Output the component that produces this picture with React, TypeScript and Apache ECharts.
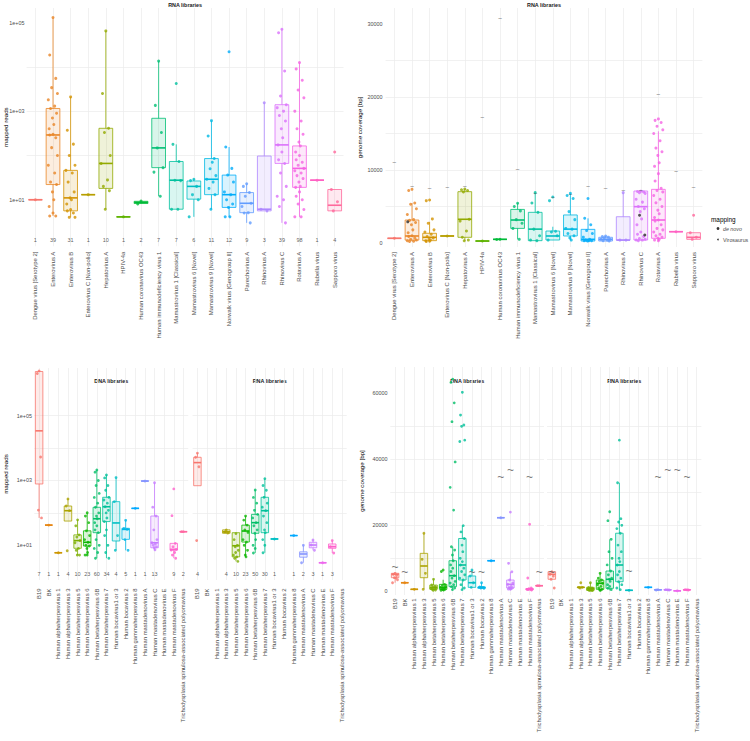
import React, { useEffect, useRef } from "react";
import * as echarts from "echarts";

// ---------------- categories ----------------
const rnaCategories = [
  "Dengue virus [Serotype 2]",
  "Enterovirus A",
  "Enterovirus B",
  "Enterovirus C [Non-polio]",
  "Hepatovirus A",
  "HPIV-4a",
  "Human coronavirus OC43",
  "Human immunodeficiency virus 1",
  "Mamastrovirus 1 [Classical]",
  "Mamastrovirus 6 [Novel]",
  "Mamastrovirus 9 [Novel]",
  "Norwalk virus [Genogroup II]",
  "Parechovirus A",
  "Rhinovirus A",
  "Rhinovirus C",
  "Rotavirus A",
  "Rubella virus",
  "Sapporo virus",
];

const dnaCategories = [
  "B19",
  "BK",
  "Human alphaherpesvirus 1",
  "Human alphaherpesvirus 3",
  "Human betaherpesvirus 5",
  "Human betaherpesvirus 6",
  "Human betaherpesvirus 6B",
  "Human betaherpesvirus 7",
  "Human bocavirus1 or 3",
  "Human bocavirus 2",
  "Human gammaherpesvirus 8",
  "Human mastadenovirus A",
  "Human mastadenovirus C",
  "Human mastadenovirus E",
  "Human mastadenovirus F",
  "Trichodysplasia spinulosa-associated polyomavirus",
];

// ---------------- panel A: RNA libraries, mapped reads ----------------
// box stats: [lower whisker, Q1, median, Q3, upper whisker]
const rnaReadBoxes: (number[] | null)[] = [
  [10, 10, 10, 10, 10],
  [4.3, 22, 290, 1150, 130000],
  [4, 5.6, 11, 46, 2100],
  [13, 13, 13, 13, 13],
  [6.1, 18, 66, 410, 65000],
  [4.1, 4.1, 4.1, 4.1, 4.1],
  [8, 8.2, 8.7, 9.2, 9.3],
  [12, 53, 148, 690, 13500],
  [6.1, 6.1, 27.6, 73, 178],
  [4.1, 10.3, 20, 26.5, 29],
  [6.1, 13, 29, 85, 610],
  [4.1, 6.7, 13, 36, 155],
  [3, 5.1, 8.3, 14.5, 23],
  [5.6, 5.6, 6.1, 97, 1550],
  [3, 66, 173, 1400, 71000],
  [4.1, 19, 51, 164, 12500],
  [27.6, 27.6, 27.6, 27.6, 27.6],
  [5.6, 5.6, 7.5, 17, 17],
];
const rnaReadPoints: number[][] = [
  [10],
  [130000, 18600, 5500, 3400, 2500, 1800, 1300, 1150, 900, 700, 500, 400, 300, 290, 250, 150, 100, 60, 40, 25, 22, 15, 10, 7, 5, 4.3, 4.3],
  [2100, 370, 180, 100, 60, 46, 40, 25, 15, 11, 10, 8, 6, 5.6, 5, 4, 4],
  [13],
  [65000, 2500, 410, 330, 100, 66, 28, 20, 16, 6.1],
  [4.1],
  [9.3, 8],
  [13500, 1350, 330, 148, 53, 42, 12],
  [4200, 178, 73, 27.6, 27, 6.1, 6.1],
  [29, 27, 20, 13, 10, 4.1],
  [610, 275, 85, 50, 35, 29, 25, 18, 13, 6.1, 70],
  [22000, 155, 51, 36, 25, 15, 13, 10, 8, 6.7, 4.1, 4.1],
  [23, 20, 14.5, 12, 8.3, 7, 5.1, 5, 3],
  [1550, 6.1, 5.6],
  [71000, 59000, 8100, 2200, 1400, 1200, 1000, 800, 600, 400, 250, 173, 120, 80, 66, 40, 20, 12, 10, 7, 3],
  [12500, 9000, 5000, 3000, 2000, 1000, 600, 400, 300, 200, 164, 120, 100, 80, 70, 60, 51, 45, 40, 35, 30, 25, 20, 19, 15, 12, 10, 8, 6, 4.1, 4.1],
  [27.6],
  [120, 17, 9, 5.6],
];
const rnaReadCounts: (number | null)[] = [1, 39, 31, 1, 10, 1, 2, 7, 7, 6, 11, 12, 9, 3, 39, 98, 1, 4];

// ---------------- panel B: RNA libraries, genome coverage ----------------
const rnaCovBoxes: (number[] | null)[] = [
  [640, 640, 640, 640, 640],
  [200, 400, 960, 3150, 5480],
  [200, 320, 780, 1330, 2900],
  [960, 960, 960, 960, 960],
  [300, 780, 3250, 7030, 7400],
  [270, 270, 270, 270, 270],
  [500, 500, 500, 500, 500],
  [500, 2000, 3150, 4600, 5440],
  [320, 320, 1900, 4200, 6900],
  [400, 410, 960, 1640, 2230],
  [400, 960, 1900, 3840, 6800],
  [270, 270, 500, 1870, 3380],
  [270, 270, 500, 780, 960],
  [400, 400, 400, 3600, 6900],
  [300, 410, 4980, 7120, 7120],
  [300, 640, 3150, 7350, 15300],
  [1550, 1550, 1550, 1550, 1550],
  [500, 500, 780, 1410, 1410],
];
const rnaCovPoints: number[][] = [
  [650],
  [7350, 7200, 5480, 5300, 4700, 3900, 3200, 3100, 2800, 2500, 1800, 1400, 1000, 900, 700, 500, 400, 300, 250, 200],
  [5900, 5800, 3300, 2700, 1800, 1500, 1200, 900, 700, 500, 400, 320, 250, 200],
  [960],
  [7400, 7300, 7200, 7000, 3250, 3000, 1640, 780, 400, 300],
  [270],
  [500, 480],
  [5440, 5000, 4400, 3200, 2700, 2000, 500],
  [6900, 5480, 4200, 1900, 1000, 400, 320],
  [6300, 5800, 1600, 1500, 1000, 400],
  [6800, 6500, 6100, 4300, 3200, 2000, 1900, 1300, 1000, 700, 400],
  [6100, 3380, 2500, 1700, 1300, 800, 500, 400, 300, 270, 300, 300],
  [960, 900, 800, 700, 500, 500, 400, 300, 270],
  [6900, 400, 400],
  [7100, 7050, 7000, 6900, 6800, 6000, 5600, 5000, 4700, 4300, 3300, 2500, 1500, 1200, 900, 600, 500, 410, 400, 300],
  [17000, 16800, 16500, 16000, 15500, 15000, 14000, 13000, 12500, 12000, 11000, 10500, 9500, 8500, 7500, 7200, 7000, 6500, 6000, 5500, 5000, 4500, 4000, 3500, 3150, 3000, 2500, 2000, 1800, 1500, 1200, 1000, 800, 640, 500, 400, 300],
  [1550],
  [3800, 1410, 780, 500],
];
const rnaGenomeLength: (number | null)[] = [11000, 7700, 7500, 7600, 7700, 17200, 30800, 10100, 6800, 6300, 6700, 7700, 7500, 7200, 7200, 20400, 9800, 7600];
const deNovoCategory = [14, 14, 1];
const deNovoCoverage = [3800, 1100, 2900];

// ---------------- panel C: mapped reads, DNA / RNA libraries ----------------
const dnaLibReadBoxes: (number[] | null)[] = [
  [70, 780, 34000, 2300000, 2400000],
  [42, 42, 42, 42, 42],
  [5.9, 5.9, 5.9, 5.9, 5.9],
  [56, 56, 117, 163, 270],
  [5, 8.1, 14, 21, 61],
  [5, 9.5, 12.4, 28, 101],
  [4, 24.5, 66, 149, 2100],
  [4, 54, 155, 303, 1480],
  [7, 13.6, 49, 222, 1230],
  [7, 15.3, 31, 33.5, 59],
  [138, 138, 138, 138, 138],
  [960, 960, 960, 960, 960],
  [7.3, 8.4, 12, 80, 850],
  null,
  [4, 7.1, 7.5, 11.5, 11.5],
  [26.3, 26.3, 26.3, 26.3, 26.3],
];
const dnaLibReadPoints: number[][] = [
  [2400000, 2000000, 5300, 122, 70],
  [42],
  [5.9],
  [270, 163, 117, 6.8],
  [61, 40, 21, 18, 14, 12, 8, 7, 5, 5],
  [101, 80, 50, 28, 20, 15, 12.4, 10, 9.5, 8, 6, 5, 5],
  [2100, 1800, 1000, 700, 400, 300, 200, 149, 100, 80, 66, 50, 40, 30, 24.5, 15, 10, 8, 6, 4],
  [1480, 1200, 700, 500, 303, 250, 200, 155, 120, 100, 70, 54, 30, 20, 10, 6, 4],
  [1230, 222, 20, 7],
  [59, 33, 31, 15, 7],
  [138],
  [960],
  [850, 150, 80, 30, 15, 12, 11, 10, 9, 8.4, 7.3],
  [],
  [550, 82, 11.5, 9, 7.5, 7.1, 6, 5, 4],
  [26.3, 26.3],
];
const dnaLibReadCounts: (number | null)[] = [7, 1, 1, 4, 10, 23, 60, 34, 4, 5, 1, 1, 13, null, 9, 2];

const rnaLibReadBoxes: (number[] | null)[] = [
  [690, 690, 3560, 5200, 7000],
  null,
  null,
  [23.5, 23.5, 26, 30, 30],
  [3.2, 4.4, 9.7, 24.5, 24.5],
  [4.4, 12.6, 27.6, 42, 80],
  [5.8, 23.5, 50, 90, 510],
  [5.9, 24.5, 117, 303, 1140],
  [15.7, 15.7, 15.7, 15.7, 15.7],
  null,
  [20, 20, 20, 20, 20],
  [2.9, 4.3, 5.4, 6.3, 10],
  [7, 8.4, 10.2, 12.4, 14.6],
  [2.9, 2.9, 2.9, 2.9, 2.9],
  [5.8, 8.1, 9.1, 11, 14],
  null,
];
const rnaLibReadPoints: number[][] = [
  [7000, 5200, 2650, 14],
  [],
  [],
  [30, 26, 24, 26],
  [23, 15, 10, 9, 7, 5, 4.4, 4, 3.2, 6],
  [80, 60, 42, 30, 25, 15, 12.6, 10, 7, 5, 4.4],
  [510, 300, 200, 120, 90, 70, 50, 40, 30, 23.5, 15, 10, 8, 5.8],
  [1140, 700, 500, 303, 200, 150, 117, 80, 50, 30, 24.5, 15, 10, 5.9],
  [15.7],
  [],
  [20],
  [10, 2.9],
  [14.6, 10.2, 7],
  [2.9],
  [14, 9.1, 5.8],
  [],
];
const rnaLibReadCounts: (number | null)[] = [4, null, null, 4, 10, 23, 50, 30, 1, null, 1, 2, 3, 1, 3, null];

// ---------------- panel D: genome coverage, DNA / RNA libraries ----------------
const dnaLibCovBoxes: (number[] | null)[] = [
  [2600, 4120, 5150, 5450, 5450],
  [2600, 2600, 2600, 2600, 2600],
  [600, 600, 600, 600, 600],
  [600, 4120, 7670, 11500, 17600],
  [300, 600, 1200, 1900, 3640],
  [300, 600, 1200, 2100, 3500],
  [500, 1400, 4730, 9270, 13500],
  [500, 3420, 7970, 16000, 19900],
  [1200, 1200, 2600, 4640, 6450],
  [900, 900, 1200, 1300, 2600],
  [9270, 9270, 9270, 9270, 9270],
  [22300, 22300, 22300, 22300, 22300],
  [600, 1000, 2100, 3420, 5900],
  null,
  [400, 500, 600, 800, 1000],
  [1700, 1700, 1700, 1700, 1700],
];
const dnaLibCovPoints: number[][] = [
  [5450, 5150, 4800, 4120, 3500, 2600, 4000],
  [2600],
  [600],
  [17600, 9700, 5450, 600],
  [3640, 1900, 1500, 1200, 1000, 900, 800, 600, 400, 300],
  [6450, 6000, 2100, 1800, 1500, 1200, 1000, 800, 600, 500, 400, 300],
  [64300, 63300, 57100, 51400, 39200, 31500, 24600, 13500, 12500, 11000, 9270, 8000, 7000, 6000, 4730, 4000, 3000, 2500, 2000, 1400, 1000, 500],
  [60300, 53400, 50400, 50000, 45800, 45400, 19900, 18000, 16000, 14000, 12000, 10000, 9000, 7970, 7000, 6000, 5000, 4000, 3420, 2000, 1000, 500],
  [6450, 4640, 2600, 1200],
  [2600, 1300, 1200, 1000, 900],
  [9270],
  [22300],
  [24000, 8480, 5900, 3420, 2500, 2100, 1500, 1200, 1000, 900, 800, 700, 600],
  [],
  [20300, 4030, 1000, 800, 700, 600, 600, 500, 400],
  [1700, 1700],
];
const dnaLibGenomeLength: (number | null)[] = [7400, 5750, null, null, null, null, null, null, 5900, 5750, null, 34700, 36700, null, 34700, 5750];

const rnaLibCovBoxes: (number[] | null)[] = [
  [3640, 3640, 5150, 5940, 5940],
  null,
  null,
  [1000, 1150, 1200, 1250, 1300],
  [200, 300, 800, 1200, 2600],
  [300, 600, 2420, 3420, 5450],
  [300, 900, 3640, 6150, 15750],
  [300, 2900, 7970, 17600, 32900],
  [300, 300, 300, 300, 300],
  null,
  [1200, 1200, 1200, 1200, 1200],
  [400, 400, 450, 500, 500],
  [400, 400, 450, 500, 500],
  [150, 150, 150, 150, 150],
  [400, 400, 450, 500, 500],
  null,
];
const rnaLibCovPoints: number[][] = [
  [5940, 5150, 4600, 3640, 1000],
  [],
  [],
  [2600, 1200, 1200, 1000],
  [2600, 1200, 1000, 900, 600, 500, 400, 300, 200, 300],
  [5450, 4000, 3420, 3000, 2420, 2000, 1500, 1000, 600, 400, 300],
  [24100, 21400, 15750, 12000, 10000, 8000, 6150, 5000, 4000, 3640, 3000, 2000, 1500, 900, 500],
  [45800, 32900, 22000, 21000, 20000, 19000, 17600, 14000, 12000, 10000, 9000, 7970, 6000, 5000, 4000, 2900, 2000, 1000, 500],
  [300],
  [],
  [1200],
  [500, 400],
  [450, 500, 400],
  [150],
  [450, 500, 400],
  [],
];
const rnaLibGenomeLength: (number | null)[] = [5750, null, null, null, null, null, null, null, 6150, null, null, 34700, 36700, 36700, 34700, null];

// ---------------- styling helpers ----------------
const FONT = "'Liberation Sans', Arial, Helvetica, sans-serif";
const GRID_COLOR = "#EBEBEB";
const TEXT_GREY = "#4D4D4D";
const JITTER = [0, -0.6, 0.5, -0.25, 0.8, -0.85, 0.3, -0.45, 0.65, -0.1, 0.15, -0.7];

const CAT_FONT = 5.9;
const TICK_FONT = 5.4;
const NAME_FONT = 6.2;
const TITLE_FONT = 5.4;
const COUNT_FONT = 5.5;

function hcl2hex(h: number, c: number, l: number): string {
  const hr = (h * Math.PI) / 180;
  const U = c * Math.cos(hr);
  const V = c * Math.sin(hr);
  const Xn = 95.047, Yn = 100.0, Zn = 108.883;
  const den = Xn + 15 * Yn + 3 * Zn;
  const un = (4 * Xn) / den;
  const vn = (9 * Yn) / den;
  const Y = l > 8 ? Yn * Math.pow((l + 16) / 116, 3) : (Yn * l) / 903.3;
  const u = U / (13 * l) + un;
  const v = V / (13 * l) + vn;
  const X = (9 * Y * u) / (4 * v);
  const Z = -X / 3 - 5 * Y + (3 * Y) / v;
  const x = X / 100, y = Y / 100, z = Z / 100;
  const r = 3.240479 * x - 1.53715 * y - 0.498535 * z;
  const g = -0.969256 * x + 1.875992 * y + 0.041556 * z;
  const b = 0.055648 * x - 0.204043 * y + 1.057311 * z;
  const gam = (t: number) => {
    const s = t <= 0.0031308 ? 12.92 * t : 1.055 * Math.pow(t, 1 / 2.4) - 0.055;
    return Math.round(Math.max(0, Math.min(1, s)) * 255);
  };
  return "#" + [gam(r), gam(g), gam(b)].map((n) => n.toString(16).padStart(2, "0")).join("");
}
function huePalette(n: number): string[] {
  const out: string[] = [];
  for (let i = 0; i < n; i++) out.push(hcl2hex(15 + (360 * i) / n, 100, 65));
  return out;
}
function withAlpha(hex: string, a: number): string {
  const r = parseInt(hex.slice(1, 3), 16);
  const g = parseInt(hex.slice(3, 5), 16);
  const b = parseInt(hex.slice(5, 7), 16);
  return `rgba(${r},${g},${b},${a})`;
}

interface Panel {
  grid: { left: number; top: number; width: number; height: number };
  cats: string[];
  colors: string[];
  boxes: (number[] | null)[];
  points: number[][];
  log: boolean;
  yMin: number;
  yMax: number;
  yTicks: number[];
  yLabels: number[];
  showYLabels: boolean;
  yName?: string;
  nameGap?: number;
  labelMargin: number;
  xLabelMargin: number;
  jitter: number;
  sym: number;
  counts?: (number | null)[];
  countAt?: number;
  tildes?: (number | null)[];
  tildeSize?: number;
}

function buildOption() {
  const col18 = huePalette(18);
  const col16 = huePalette(16);
  const panels: Panel[] = [
    {
      grid: { left: 26.6, top: 8, width: 316.9, height: 238.2 },
      cats: rnaCategories, colors: col18, boxes: rnaReadBoxes, points: rnaReadPoints,
      log: true, yMin: -0.05, yMax: 5.33, yTicks: [1, 2, 3, 4, 5], yLabels: [1, 3, 5], showYLabels: true,
      yName: "mapped reads", nameGap: 18, labelMargin: 2.2, xLabelMargin: 5.5,
      jitter: 5.5, sym: 3, counts: rnaReadCounts, countAt: 1.23,
    },
    {
      grid: { left: 385.6, top: 8, width: 316.8, height: 239 },
      cats: rnaCategories, colors: col18, boxes: rnaCovBoxes, points: rnaCovPoints,
      log: false, yMin: -548, yMax: 32192, yTicks: [0, 5000, 10000, 15000, 20000, 25000, 30000],
      yLabels: [0, 10000, 20000, 30000], showYLabels: true,
      yName: "genome coverage [bp]", nameGap: 23.6, labelMargin: 3.2, xLabelMargin: 5,
      jitter: 5.5, sym: 3, tildes: rnaGenomeLength, tildeSize: 7,
    },
    {
      grid: { left: 34.3, top: 368, width: 153.9, height: 212 },
      cats: dnaCategories, colors: col16, boxes: dnaLibReadBoxes, points: dnaLibReadPoints,
      log: true, yMin: -0.07, yMax: 6.47, yTicks: [1, 2, 3, 4, 5, 6], yLabels: [1, 3, 5], showYLabels: true,
      yName: "mapped reads", nameGap: 26.3, labelMargin: 2.4, xLabelMargin: 8.5,
      jitter: 3, sym: 2.8, counts: dnaLibReadCounts, countAt: 1.27,
    },
    {
      grid: { left: 192.6, top: 368, width: 154.1, height: 212 },
      cats: dnaCategories, colors: col16, boxes: rnaLibReadBoxes, points: rnaLibReadPoints,
      log: true, yMin: -0.07, yMax: 6.47, yTicks: [1, 2, 3, 4, 5, 6], yLabels: [1, 3, 5], showYLabels: false,
      labelMargin: 2.4, xLabelMargin: 8.5,
      jitter: 3, sym: 2.8, counts: rnaLibReadCounts, countAt: 1.27,
    },
    {
      grid: { left: 390.3, top: 367, width: 153.7, height: 228 },
      cats: dnaCategories, colors: col16, boxes: dnaLibCovBoxes, points: dnaLibCovPoints,
      log: false, yMin: -1120, yMax: 67970, yTicks: [0, 10000, 20000, 30000, 40000, 50000, 60000],
      yLabels: [0, 20000, 40000, 60000], showYLabels: true,
      yName: "genome coverage [bp]", nameGap: 25.6, labelMargin: 2.8, xLabelMargin: 3.5,
      jitter: 3, sym: 2.8, tildes: dnaLibGenomeLength, tildeSize: 12,
    },
    {
      grid: { left: 547, top: 367, width: 154.4, height: 228 },
      cats: dnaCategories, colors: col16, boxes: rnaLibCovBoxes, points: rnaLibCovPoints,
      log: false, yMin: -1120, yMax: 67970, yTicks: [0, 10000, 20000, 30000, 40000, 50000, 60000],
      yLabels: [0, 20000, 40000, 60000], showYLabels: false,
      labelMargin: 2.8, xLabelMargin: 3.5,
      jitter: 3, sym: 2.8, tildes: rnaLibGenomeLength, tildeSize: 12,
    },
  ];

  const grids: any[] = [];
  const xAxes: any[] = [];
  const yAxes: any[] = [];
  const series: any[] = [];

  panels.forEach((p, g) => {
    const tf = (v: number) => (p.log ? Math.log10(v) : v);
    grids.push({ ...p.grid, containLabel: false, outerBoundsMode: "none" });
    xAxes.push({
      type: "category",
      gridIndex: g,
      data: p.cats,
      boundaryGap: true,
      axisLine: { show: false },
      axisTick: { show: false },
      splitLine: { show: true, interval: 0, alignWithLabel: true, lineStyle: { color: GRID_COLOR, width: 0.7 } },
      axisLabel: {
        interval: 0,
        rotate: 90,
        fontSize: CAT_FONT,
        color: TEXT_GREY,
        fontFamily: FONT,
        margin: p.xLabelMargin,
      },
    });
    yAxes.push({
      type: "value",
      gridIndex: g,
      min: p.yMin,
      max: p.yMax,
      axisLine: { show: false },
      axisTick: { show: false, customValues: p.yTicks },
      splitLine: { show: true, showMinLine: false, showMaxLine: false, lineStyle: { color: GRID_COLOR, width: 0.7 } },
      axisLabel: {
        show: p.showYLabels,
        customValues: p.yLabels,
        fontSize: TICK_FONT,
        color: TEXT_GREY,
        fontFamily: FONT,
        margin: p.labelMargin,
        formatter: (v: number) =>
          p.log ? "1e+" + String(Math.round(v)).padStart(2, "0") : String(Math.round(v)),
      },
      name: p.yName || "",
      nameLocation: "middle",
      nameGap: p.nameGap || 20,
      nameMoveOverlap: false,
      nameTextStyle: { fontSize: NAME_FONT, color: "#000", fontFamily: FONT },
    });

    // box + whiskers (no caps), drawn through the axes' scales
    const boxData: number[][] = [];
    p.boxes.forEach((b, i) => {
      if (b) boxData.push([i, ...b.map(tf)]);
    });
    const colors = p.colors;
    series.push({
      type: "custom",
      xAxisIndex: g,
      yAxisIndex: g,
      silent: true,
      z: 2,
      encode: { x: 0, y: [1, 2, 3, 4, 5] },
      data: boxData,
      renderItem: (_params: any, api: any) => {
        const ci = api.value(0);
        const lo = api.coord([ci, api.value(1)]);
        const q1 = api.coord([ci, api.value(2)]);
        const md = api.coord([ci, api.value(3)]);
        const q3 = api.coord([ci, api.value(4)]);
        const hi = api.coord([ci, api.value(5)]);
        const bw = api.size([1, 0])[0] * 0.78;
        const c = colors[ci];
        const x = md[0];
        return {
          type: "group",
          children: [
            { type: "line", shape: { x1: x, y1: q1[1], x2: x, y2: lo[1] }, style: { stroke: c, lineWidth: 0.8 } },
            { type: "line", shape: { x1: x, y1: q3[1], x2: x, y2: hi[1] }, style: { stroke: c, lineWidth: 0.8 } },
            {
              type: "rect",
              shape: { x: x - bw / 2, y: q3[1], width: bw, height: Math.max(q1[1] - q3[1], 0) },
              style: { fill: withAlpha(c, 0.15), stroke: c, lineWidth: 0.8 },
            },
            { type: "line", shape: { x1: x - bw / 2, y1: md[1], x2: x + bw / 2, y2: md[1] }, style: { stroke: c, lineWidth: 1.6 } },
          ],
        };
      },
    });

    const pts: any[] = [];
    p.points.forEach((arr, i) => {
      arr.forEach((v, j) => {
        pts.push({
          value: [i, tf(v)],
          itemStyle: { color: p.colors[i] },
          symbolOffset: [JITTER[j % JITTER.length] * p.jitter, 0],
        });
      });
    });
    series.push({
      type: "scatter",
      xAxisIndex: g,
      yAxisIndex: g,
      silent: true,
      symbol: "circle",
      symbolSize: p.sym,
      clip: false,
      z: 3,
      data: pts,
    });

    if (p.counts) {
      const cd: any[] = [];
      p.counts.forEach((c, i) => {
        if (c != null) cd.push({ value: [i, tf(p.countAt as number)], label: { formatter: String(c) } });
      });
      series.push({
        type: "scatter",
        xAxisIndex: g,
        yAxisIndex: g,
        silent: true,
        symbol: "rect",
        symbolSize: 1,
        itemStyle: { color: "rgba(0,0,0,0)" },
        z: 4,
        label: { show: true, position: "inside", fontSize: COUNT_FONT, color: "#333", fontFamily: FONT },
        data: cd,
      });
    }
    if (p.tildes) {
      const td: any[] = [];
      p.tildes.forEach((t, i) => {
        if (t != null) td.push({ value: [i, tf(t)] });
      });
      series.push({
        type: "scatter",
        xAxisIndex: g,
        yAxisIndex: g,
        silent: true,
        symbol: "rect",
        symbolSize: 1,
        itemStyle: { color: "rgba(0,0,0,0)" },
        z: 4,
        label: {
          show: true,
          position: "inside",
          formatter: "~",
          fontSize: p.tildeSize,
          color: "#555",
          fontFamily: FONT,
        },
        data: td,
      });
    }
  });

  // de novo mapped points (panel B)
  series.push({
    type: "scatter",
    xAxisIndex: 1,
    yAxisIndex: 1,
    silent: true,
    symbolSize: 3,
    z: 5,
    itemStyle: { color: "#2b2b2b" },
    data: deNovoCategory.map((c, i) => ({ value: [c, deNovoCoverage[i]], symbolOffset: [JITTER[(i + 3) % JITTER.length] * 5, 0] })),
  });

  const titleStyle = (text: string, x: number, y: number) => ({
    type: "text",
    x,
    y,
    silent: true,
    style: {
      text,
      fill: "#1a1a1a",
      fontSize: TITLE_FONT,
      fontWeight: "bold",
      fontFamily: FONT,
      textAlign: "center",
      textVerticalAlign: "middle",
    },
  });

  const graphic: any[] = [
    titleStyle("RNA libraries", 185.1, 4.5),
    titleStyle("RNA libraries", 544, 4.5),
    titleStyle("DNA libraries", 111.3, 381),
    titleStyle("RNA libraries", 269.7, 381),
    titleStyle("DNA libraries", 467.2, 381),
    titleStyle("RNA libraries", 624.2, 381),
    {
      type: "text",
      x: 711,
      y: 219,
      silent: true,
      style: { text: "mapping", fill: "#000", fontSize: 6.4, fontFamily: FONT, textVerticalAlign: "middle" },
    },
    { type: "circle", silent: true, shape: { cx: 718, cy: 228.5, r: 1.4 }, style: { fill: "#333" } },
    {
      type: "text",
      x: 723,
      y: 228.5,
      silent: true,
      style: { text: "de novo", fill: "#4D4D4D", fontSize: 5.3, fontStyle: "italic", fontFamily: FONT, textVerticalAlign: "middle" },
    },
    { type: "circle", silent: true, shape: { cx: 718, cy: 239.5, r: 0.8 }, style: { fill: "#333" } },
    {
      type: "text",
      x: 723,
      y: 239.5,
      silent: true,
      style: { text: "Virosaurus", fill: "#4D4D4D", fontSize: 5.3, fontFamily: FONT, textVerticalAlign: "middle" },
    },
  ];

  return {
    animation: false,
    backgroundColor: "#fff",
    textStyle: { fontFamily: FONT },
    grid: grids,
    xAxis: xAxes,
    yAxis: yAxes,
    series,
    graphic,
  };
}

export default function App() {
  const ref = useRef<HTMLDivElement>(null);
  useEffect(() => {
    const chart = echarts.init(ref.current as HTMLDivElement, null, { renderer: "svg" });
    chart.setOption(buildOption() as any);
    return () => chart.dispose();
  }, []);
  return (
    <div
      ref={ref}
      style={{ position: "absolute", left: 0, top: 0, width: 750, height: 741, background: "#fff" }}
    />
  );
}
